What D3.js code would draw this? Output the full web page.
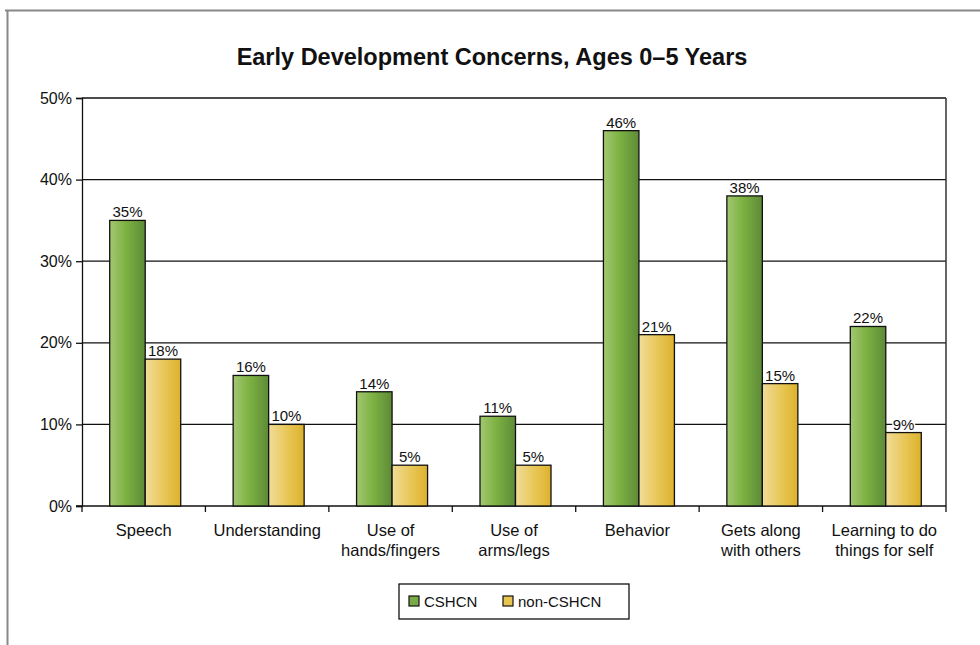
<!DOCTYPE html>
<html>
<head>
<meta charset="utf-8">
<script src="https://cdn.jsdelivr.net/npm/d3@7"></script>
<style>
  body { margin: 0; background: #fff; }
  svg text { font-family: "Liberation Sans", Arial, sans-serif; fill: #111; }
</style>
</head>
<body>
<div id="chart"></div>
<script>
var categories = [
  ['Speech'],
  ['Understanding'],
  ['Use of', 'hands/fingers'],
  ['Use of', 'arms/legs'],
  ['Behavior'],
  ['Gets along', 'with others'],
  ['Learning to do', 'things for self']
]
var cshcn = [35, 16, 14, 11, 46, 38, 22]
var nonCshcn = [18, 10, 5, 5, 21, 15, 9]
var seriesNames = ['CSHCN', 'non-CSHCN']
var yTicks = [0, 10, 20, 30, 40, 50]

var width = 980, height = 645
  , plotL = 82, plotR = 946, plotT = 98, plotB = 506

var svg = d3.select('#chart').append('svg')
  .attr('width', width)
  .attr('height', height)

var defs = svg.append('defs')
function grad(id, stops) {
  var g = defs.append('linearGradient').attr('id', id)
    .attr('x1', 0).attr('x2', 1).attr('y1', 0).attr('y2', 0)
  stops.forEach(function(s) {
    g.append('stop').attr('offset', s[0]).attr('stop-color', s[1])
  })
}
grad('g-green', [[0, '#a3c772'], [0.45, '#7db242'], [1, '#5d8a38']])
grad('g-yellow', [[0, '#f1dc9a'], [0.5, '#e9c85a'], [1, '#ddb12c']])
var fills = ['url(#g-green)', 'url(#g-yellow)']
var swatch = ['#7aaa45', '#e8c450']

// outer frame
svg.append('line').attr('x1', 5).attr('x2', width).attr('y1', 10.5).attr('y2', 10.5)
  .attr('stroke', '#888').attr('stroke-width', 2)
svg.append('line').attr('x1', 7.5).attr('x2', 7.5).attr('y1', 10).attr('y2', height)
  .attr('stroke', '#888').attr('stroke-width', 2)

svg.append('text')
  .attr('x', 492).attr('y', 65)
  .attr('text-anchor', 'middle')
  .style('font-size', '23.5px').style('font-weight', 'bold')
  .text('Early Development Concerns, Ages 0\u20135 Years')

var x = d3.scaleBand()
  .domain(d3.range(categories.length))
  .range([plotL, plotR])
  .paddingInner(0).paddingOuter(0)

var y = d3.scaleLinear().domain([0, 50]).range([plotB, plotT])

// gridlines
svg.append('g').selectAll('line').data(yTicks.slice(1)).enter().append('line')
  .attr('x1', plotL).attr('x2', plotR)
  .attr('y1', function(d) { return y(d) }).attr('y2', function(d) { return y(d) })
  .attr('stroke', '#111').attr('stroke-width', 1.3)

svg.append('line').attr('x1', plotR).attr('x2', plotR).attr('y1', plotT).attr('y2', plotB)
  .attr('stroke', '#333').attr('stroke-width', 1.5)

// y axis
var yAxis = d3.axisLeft(y).tickValues(yTicks).tickSize(6).tickPadding(4)
  .tickFormat(function(d) { return d + '%' })
var ya = svg.append('g').attr('transform', 'translate(' + plotL + ',0)').call(yAxis)
ya.selectAll('text').style('font-size', '16px').attr('fill', '#111')
ya.selectAll('line, path').attr('stroke', '#111').attr('stroke-width', 1.3)

// x axis with ticks at category boundaries
var xa = svg.append('g')
xa.append('line').attr('x1', plotL - 6).attr('x2', plotR).attr('y1', plotB).attr('y2', plotB)
  .attr('stroke', '#111').attr('stroke-width', 1.5)
xa.selectAll('line.tk').data(d3.range(categories.length + 1)).enter().append('line')
  .attr('class', 'tk')
  .attr('x1', function(i) { return plotL + i * x.step() })
  .attr('x2', function(i) { return plotL + i * x.step() })
  .attr('y1', plotB).attr('y2', plotB + 6)
  .attr('stroke', '#111').attr('stroke-width', 1.3)
xa.selectAll('text').data(categories).enter().append('text')
  .attr('text-anchor', 'middle')
  .attr('transform', function(d, i) { return 'translate(' + (x(i) + x.bandwidth() / 2) + ',0)' })
  .style('font-size', '16.5px')
  .each(function(d) {
    var t = d3.select(this)
    d.forEach(function(line, j) {
      t.append('tspan').attr('x', 0).attr('y', 536 + j * 20).text(line)
    })
  })

// bars
var barW = 35.5
var groups = svg.append('g').selectAll('g').data(categories).enter().append('g')
  .attr('transform', function(d, i) { return 'translate(' + (x(i) + x.bandwidth() / 2 + 1.5) + ',0)' })

;[cshcn, nonCshcn].forEach(function(series, s) {
  groups.append('rect')
    .attr('x', s === 0 ? -barW : 0)
    .attr('width', barW)
    .attr('y', function(d, i) { return y(series[i]) })
    .attr('height', function(d, i) { return plotB - y(series[i]) })
    .attr('fill', fills[s])
    .attr('stroke', '#111').attr('stroke-width', 1.3)

  groups.append('text')
    .attr('x', s === 0 ? -barW / 2 : barW / 2)
    .attr('y', function(d, i) { return y(series[i]) - 3 })
    .attr('text-anchor', 'middle')
    .style('font-size', '15px')
    .style('paint-order', 'stroke').style('stroke', '#fff').style('stroke-width', 3)
    .text(function(d, i) { return series[i] + '%' })
})

// legend
var lg = svg.append('g').attr('transform', 'translate(399,584)')
lg.append('rect').attr('width', 230).attr('height', 35)
  .attr('fill', '#fff').attr('stroke', '#111').attr('stroke-width', 1.3)
var lx = [10, 104]
seriesNames.forEach(function(name, s) {
  lg.append('rect').attr('x', lx[s]).attr('y', 12).attr('width', 10).attr('height', 10)
    .attr('fill', swatch[s]).attr('stroke', '#111').attr('stroke-width', 1.2)
  lg.append('text').attr('x', lx[s] + 15).attr('y', 23)
    .style('font-size', '15px').text(name)
})
</script>
</body>
</html>
